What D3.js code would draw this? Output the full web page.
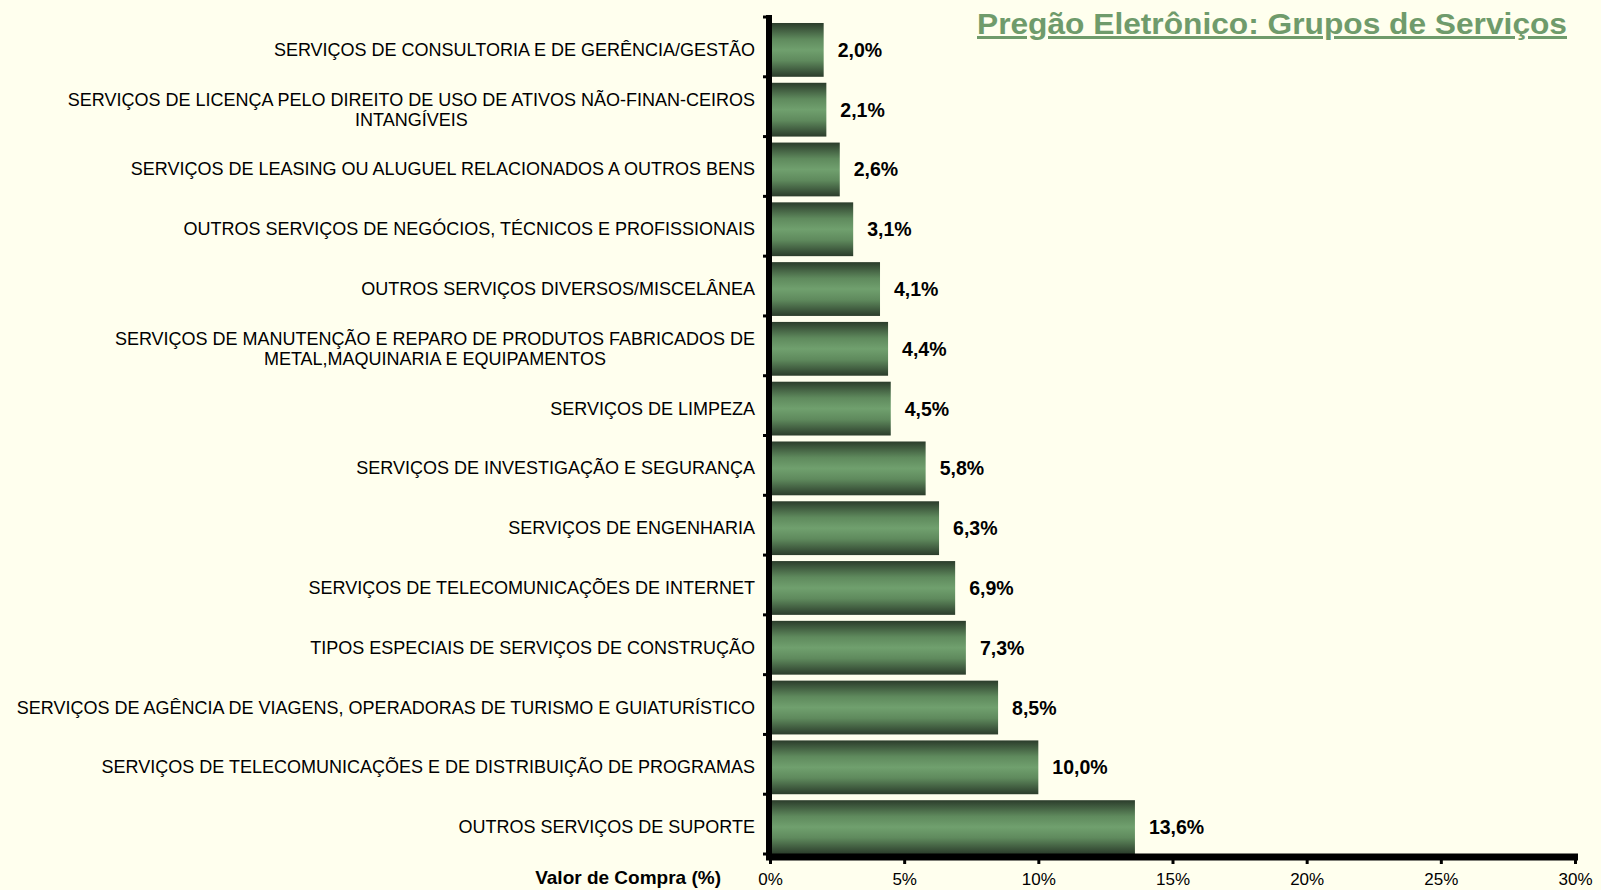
<!DOCTYPE html>
<html>
<head>
<meta charset="utf-8">
<script src="https://cdn.jsdelivr.net/npm/d3@7"></script>
<style>
  html, body { margin: 0; padding: 0; background: #ffffee; }
  svg { display: block; font-family: "Liberation Sans", Arial, sans-serif; }
</style>
</head>
<body>
<svg id="chart" width="1601" height="890"></svg>
<script>
// categories (top to bottom), "\n" marks a line break
const categories = [
  "SERVIÇOS DE CONSULTORIA E DE GERÊNCIA/GESTÃO",
  "SERVIÇOS DE LICENÇA PELO DIREITO DE USO DE ATIVOS NÃO-FINAN-CEIROS\nINTANGÍVEIS",
  "SERVIÇOS DE LEASING OU ALUGUEL RELACIONADOS A OUTROS BENS",
  "OUTROS SERVIÇOS DE NEGÓCIOS, TÉCNICOS E PROFISSIONAIS",
  "OUTROS SERVIÇOS DIVERSOS/MISCELÂNEA",
  "SERVIÇOS DE MANUTENÇÃO E REPARO DE PRODUTOS FABRICADOS DE\nMETAL,MAQUINARIA E EQUIPAMENTOS",
  "SERVIÇOS DE LIMPEZA",
  "SERVIÇOS DE INVESTIGAÇÃO E SEGURANÇA",
  "SERVIÇOS DE ENGENHARIA",
  "SERVIÇOS DE TELECOMUNICAÇÕES DE INTERNET",
  "TIPOS ESPECIAIS DE SERVIÇOS DE CONSTRUÇÃO",
  "SERVIÇOS DE AGÊNCIA DE VIAGENS, OPERADORAS DE TURISMO E GUIATURÍSTICO",
  "SERVIÇOS DE TELECOMUNICAÇÕES E DE DISTRIBUIÇÃO DE PROGRAMAS",
  "OUTROS SERVIÇOS DE SUPORTE"
];
const values = [2.0, 2.1, 2.6, 3.1, 4.1, 4.4, 4.5, 5.8, 6.3, 6.9, 7.3, 8.5, 10.0, 13.6];
const xTicks = [0, 5, 10, 15, 20, 25, 30];
const title = "Pregão Eletrônico: Grupos de Serviços";
const axisTitle = "Valor de Compra (%)";

const svg = d3.select('#chart');
const data = categories.map((c, i) => ({ cat: c, value: values[i] }));

const x = d3.scaleLinear().domain([0, 30]).range([770, 1575]);
const y = d3.scaleBand().domain(categories).range([20, 857]).paddingInner(0.1).paddingOuter(0.05);

// bar gradient: dark edges, light middle
const grad = svg.append('defs').append('linearGradient')
    .attr('id', 'barGrad').attr('x1', 0).attr('y1', 0).attr('x2', 0).attr('y2', 1);
[[0, '#2b3c2b'], [0.3, '#5f8a5d'], [0.5, '#70a06e'], [0.7, '#5f8a5d'], [1, '#2b3c2b']]
    .forEach(([o, c]) => grad.append('stop').attr('offset', o).attr('stop-color', c));

svg.append('g').attr('class', 'bars')
  .selectAll('rect').data(data)
  .join('rect')
    .attr('x', x(0))
    .attr('y', d => y(d.cat))
    .attr('width', d => x(d.value) - x(0))
    .attr('height', y.bandwidth())
    .attr('fill', 'url(#barGrad)');

// value labels
svg.append('g').attr('class', 'values')
  .selectAll('text').data(data)
  .join('text')
    .attr('x', d => x(d.value) + 14)
    .attr('y', d => y(d.cat) + y.bandwidth() / 2 + 7)
    .attr('font-size', 19.5).attr('font-weight', 'bold').attr('fill', '#000')
    .text(d => d.value.toFixed(1).replace('.', ',') + '%');

// category labels: block right-aligned to the axis, lines centred inside the block
const lineH = 20;
const labelRight = 755;
svg.append('g').attr('class', 'cat-labels')
  .selectAll('text').data(data)
  .join('text')
    .attr('text-anchor', 'middle')
    .attr('font-size', 18).attr('fill', '#000')
    .each(function (d) {
      const el = d3.select(this);
      const lines = d.cat.split('\n');
      const cy = y(d.cat) + y.bandwidth() / 2 - (lines.length - 1) * lineH / 2 + 6;
      const spans = el.selectAll('tspan').data(lines).join('tspan')
        .attr('y', (l, i) => cy + i * lineH)
        .text(l => l);
      const w = d3.max(spans.nodes(), n => n.getComputedTextLength());
      spans.attr('x', labelRight - w / 2);
    });

// left axis: thick line + little nubs at band edges
const yTop = 15, yBottom = 857;
svg.append('line')
    .attr('x1', x(0) - 1).attr('x2', x(0) - 1)
    .attr('y1', yTop).attr('y2', yBottom + 3)
    .attr('stroke', '#000').attr('stroke-width', 6);
const edges = d3.range(categories.length + 1).map(i => y.range()[0] + i * y.step() - y.step() * y.paddingInner() / 2);
svg.append('g').selectAll('line').data(edges)
  .join('line')
    .attr('x1', x(0) - 7).attr('x2', x(0))
    .attr('y1', d => d).attr('y2', d => d)
    .attr('stroke', '#000').attr('stroke-width', 3);

// bottom axis
svg.append('line')
    .attr('x1', x(0) - 4).attr('x2', x(30) + 3)
    .attr('y1', yBottom).attr('y2', yBottom)
    .attr('stroke', '#000').attr('stroke-width', 7);
const xAxis = svg.append('g')
    .attr('transform', `translate(0,${yBottom + 3})`)
    .call(d3.axisBottom(x).tickValues(xTicks).tickSize(4).tickFormat(d => d + '%'));
xAxis.select('.domain').remove();
xAxis.selectAll('.tick line').attr('stroke', '#000').attr('stroke-width', 3);
xAxis.selectAll('.tick text')
    .attr('font-size', 17).attr('font-family', '"Liberation Sans", Arial, sans-serif')
    .attr('fill', '#000').attr('y', 0).attr('dy', 0)
    .attr('transform', 'translate(0,25)');

svg.append('text')
    .attr('x', 721).attr('y', 884)
    .attr('text-anchor', 'end')
    .attr('font-size', 19).attr('font-weight', 'bold')
    .text(axisTitle);

// title
svg.append('text')
    .attr('x', 977).attr('y', 34)
    .attr('font-size', 30).attr('font-weight', 'bold')
    .attr('fill', '#6f9b6b')
    .attr('text-decoration', 'underline')
    .attr('textLength', 590).attr('lengthAdjust', 'spacingAndGlyphs')
    .text(title);
</script>
</body>
</html>
